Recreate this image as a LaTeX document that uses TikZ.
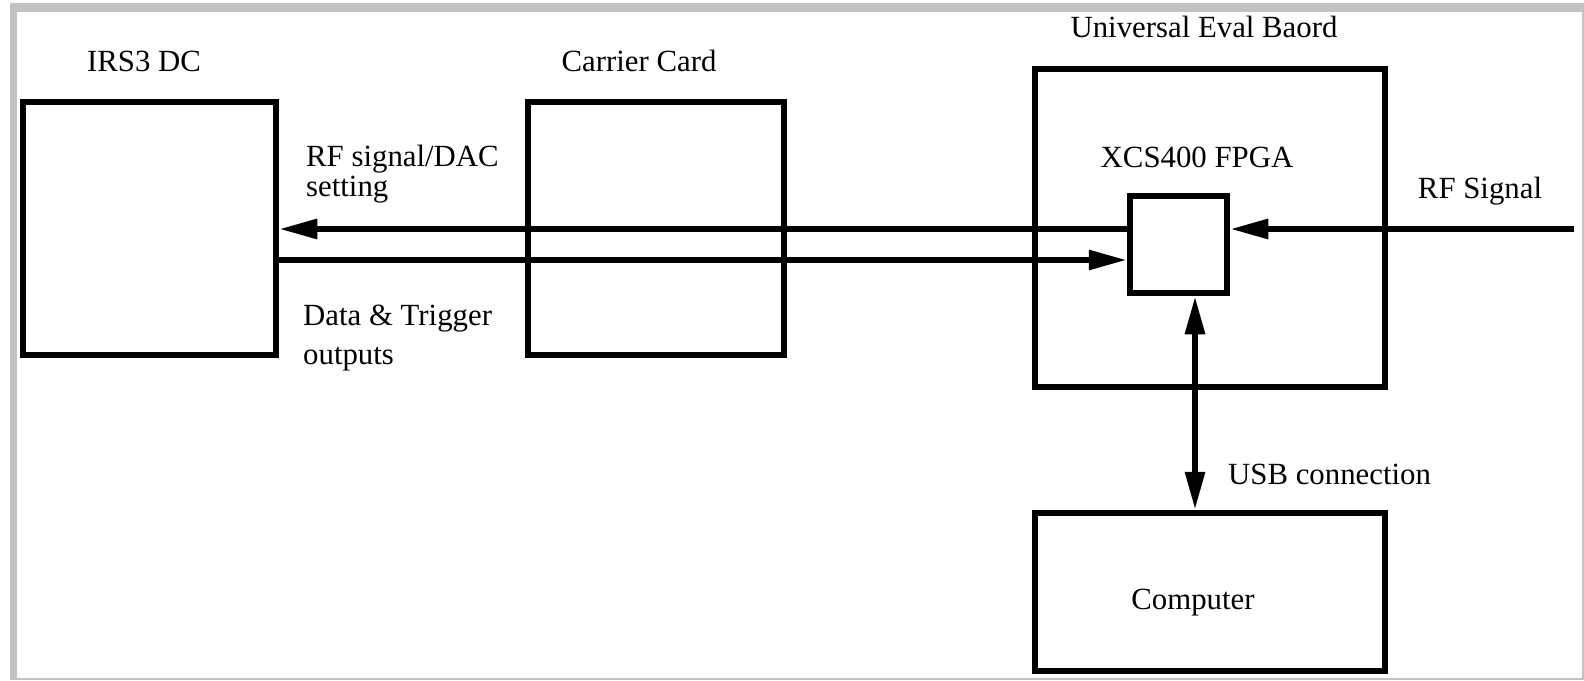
\documentclass[tikz,border=0pt]{standalone}
\usepackage{fontspec}
\setmainfont{Liberation Serif}
\usetikzlibrary{arrows.meta,
                positioning,
                calc}
\definecolor{framegray}{gray}{0.76}

\tikzset{
    block/.style={draw, rectangle, line width=6.5pt, inner sep=0pt},
    sig/.style={line width=6pt},
    lbl/.style={inner sep=0pt, font=\fontsize{30.8}{30}\selectfont},
    >={Triangle[length=38pt, width=19pt]}
}

\begin{document}
\begin{tikzpicture}[x=1pt, y=-1pt]
            \useasboundingbox (0,0) rectangle (1584,680);

            % Grey frame round the whole figure
            \fill[framegray] (11,4) rectangle (1584,12);
            \fill[framegray] (11,4) rectangle (17,680);
            \draw[framegray, line width=1.2pt] (11,4) rectangle (1583,679);

            % The boards
            \node[block, minimum width=253pt, minimum height=253pt] (irs) at (149.5,228.5) {};
            \node[block, minimum width=256pt, minimum height=253pt] (carrier) at (656,228.5) {};
            \node[block, minimum width=350pt, minimum height=318pt] (ueb) at (1210,228) {};
            \node[block, minimum width=97pt, minimum height=97pt] (fpga) at (1178.5,244.5) {};
            \node[block, minimum width=350pt, minimum height=158pt] (comp) at (1210,592) {};

            % Points where the lines meet the FPGA
            \coordinate (rfout) at ($(fpga.west)+(0,-15.5)$);
            \coordinate (datain) at ($(fpga.west)+(0,15.5)$);
            \coordinate (rfsrc) at (1574,229);
            \coordinate (usbtop) at ($(fpga.south)+(16.5,0)$);

            % Signal lines
            \draw[sig, ->] (rfout) -- (irs.east |- rfout);
            \draw[sig, ->] (irs.east |- datain) -- (datain);
            \draw[sig, ->] (rfsrc) -- (fpga.east |- rfsrc);
            \draw[sig, <->] (usbtop) -- (usbtop |- comp.north);

            % Labels (two-line ones sit on the baseline of their last line)
            \node[lbl, anchor=base] (irslbl) at (144,71) {IRS3 DC};
            \node[lbl, anchor=base] (carrierlbl) at (639,71) {Carrier Card};
            \node[lbl, anchor=base] (ueblbl) at (1204,37) {Universal Eval Baord};
            \node[lbl, anchor=base] (fpgalbl) at (1197,167) {XCS400 FPGA};
            \node[lbl, anchor=base] (rflbl) at (1480,198) {RF Signal};
            \node[lbl, anchor=base west, align=left] (daclbl) at (306,196) {RF signal/DAC\\setting};
            \node[lbl, anchor=base west, align=left, font=\fontsize{30.8}{39}\selectfont] (datalbl) at (303,364) {Data \& Trigger\\outputs};
            \node[lbl, anchor=base west] (usblbl) at (1228,484) {USB connection};
            \node[lbl, anchor=base] (complbl) at (1193,609) {Computer};
        \end{tikzpicture}
\end{document}
